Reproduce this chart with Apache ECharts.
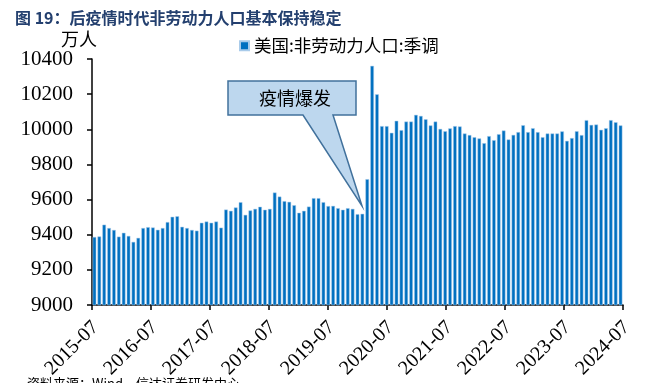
<!DOCTYPE html>
<html>
<head>
<meta charset="utf-8">
<script src="https://cdn.jsdelivr.net/npm/echarts@6/dist/echarts.min.js"></script>
<style>
html,body{margin:0;padding:0;background:#fff;}
#chart{width:650px;height:383px;}
</style>
</head>
<body>
<div id="chart"></div>
<script>
// ---- data ----
const titleText = '图 19：后疫情时代非劳动力人口基本保持稳定';
const seriesName = '美国:非劳动力人口:季调';
const unitName = '万人';
const sourceText = '资料来源：Wind，信达证券研发中心';
const calloutText = '疫情爆发';

// months 2015-07 .. 2024-07
const categories = [];
for (let y = 2015, m = 7; y < 2024 || (y === 2024 && m <= 7); ) {
  categories.push(y + '-' + String(m).padStart(2, '0'));
  m++; if (m > 12) { m = 1; y++; }
}

// 万人
const nonLaborForce = [
  9387, 9390, 9457, 9438, 9427, 9389, 9411, 9393, 9359, 9382, 9438, 9443,
  9441, 9428, 9438, 9472, 9502, 9505, 9445, 9438, 9427, 9423, 9468, 9475,
  9468, 9475, 9440, 9543, 9536, 9555, 9585, 9513, 9538, 9547, 9559, 9542,
  9547, 9640, 9617, 9591, 9587, 9568, 9525, 9536, 9560, 9608, 9608, 9585,
  9563, 9564, 9551, 9542, 9551, 9547, 9517, 9519, 9716,
  10361, 10199, 10018, 10018, 9980, 10048, 9995, 10044, 10044, 10082, 10076, 10057,
  10022, 10044, 10002, 9989, 10005, 10018, 10016, 9976, 9967, 9955, 9948, 9921,
  9961, 9938, 9972, 9993, 9942, 9968, 9984, 10023, 9984, 10006, 9984, 9955,
  9976, 9976, 9976, 9988, 9934, 9950, 9989, 9967, 10052, 10025, 10027, 9997,
  10006, 10052, 10040, 10022
];

const xTickLabels = ['2015-07','2016-07','2017-07','2018-07','2019-07','2020-07','2021-07','2022-07','2023-07','2024-07'];
const yMin = 9000, yMax = 10400, yStep = 200;

// ---- chart ----
const chart = echarts.init(document.getElementById('chart'), null, {renderer: 'canvas'});
const serif = '"Liberation Serif","Times New Roman",serif';
const cjk = '"Noto Sans CJK SC",sans-serif';

chart.setOption({
  animation: false,
  backgroundColor: '#fff',
  title: {
    text: titleText,
    left: 10, top: 5,
    textStyle: {fontFamily: cjk, fontSize: 16, fontWeight: 'bold', color: '#24406f'}
  },
  legend: {
    left: 234, top: 32,
    icon: 'rect', itemWidth: 9, itemHeight: 9, itemGap: 4,
    textStyle: {fontFamily: cjk, fontSize: 17.5, color: '#000'},
    data: [seriesName]
  },
  grid: {left: 92, right: 27, top: 59, bottom: 78, containLabel: false},
  xAxis: [
    {
      type: 'category', data: categories, boundaryGap: true,
      axisLine: {show: true, lineStyle: {color: '#000', width: 1.5}},
      axisTick: {show: false}, axisLabel: {show: false}, splitLine: {show: false}
    },
    {
      type: 'value', min: 0, max: xTickLabels.length - 1, interval: 1,
      position: 'bottom',
      axisLine: {show: false},
      axisTick: {show: true, length: 5, lineStyle: {color: '#000', width: 1.5}},
      axisLabel: {
        rotate: 45, margin: 16, verticalAlign: 'top', lineHeight: 10,
        fontFamily: serif, fontSize: 20, color: '#000',
        formatter: v => xTickLabels[v]
      },
      splitLine: {show: false}
    }
  ],
  yAxis: {
    type: 'value', min: yMin, max: yMax, interval: yStep,
    name: unitName, nameLocation: 'end', nameGap: 14,
    nameTextStyle: {fontFamily: cjk, fontSize: 18, color: '#000', align: 'center', verticalAlign: 'middle', padding: [0, 26, 0, 0]},
    axisLine: {show: true, lineStyle: {color: '#000', width: 1.5}},
    axisTick: {show: true, inside: false, length: 5, lineStyle: {color: '#000', width: 1.5}},
    axisLabel: {margin: 19, fontFamily: serif, fontSize: 21, color: '#000', formatter: v => String(v)},
    splitLine: {show: false}
  },
  series: [{
    name: seriesName, type: 'bar', xAxisIndex: 0,
    data: nonLaborForce,
    barCategoryGap: '26%',
    itemStyle: {color: '#0070C0', borderColor: '#a9cbea', borderWidth: 0.5}
  }],
  graphic: [
    {
      type: 'polygon', z: 100,
      shape: {points: [[228, 81], [356, 81], [356, 115], [333, 115], [362, 206], [303, 115], [228, 115]]},
      style: {fill: '#BDD7EE', stroke: '#41719C', lineWidth: 1.5}
    },
    {
      type: 'text', z: 101, left: 259, top: 89,
      style: {text: calloutText, fontFamily: cjk, fontSize: 18, fill: '#000'}
    },
    {
      type: 'text', z: 101, left: 27, top: 377,
      style: {text: sourceText, fontFamily: cjk, fontSize: 13, fill: '#000'}
    }
  ]
});
</script>
</body>
</html>
